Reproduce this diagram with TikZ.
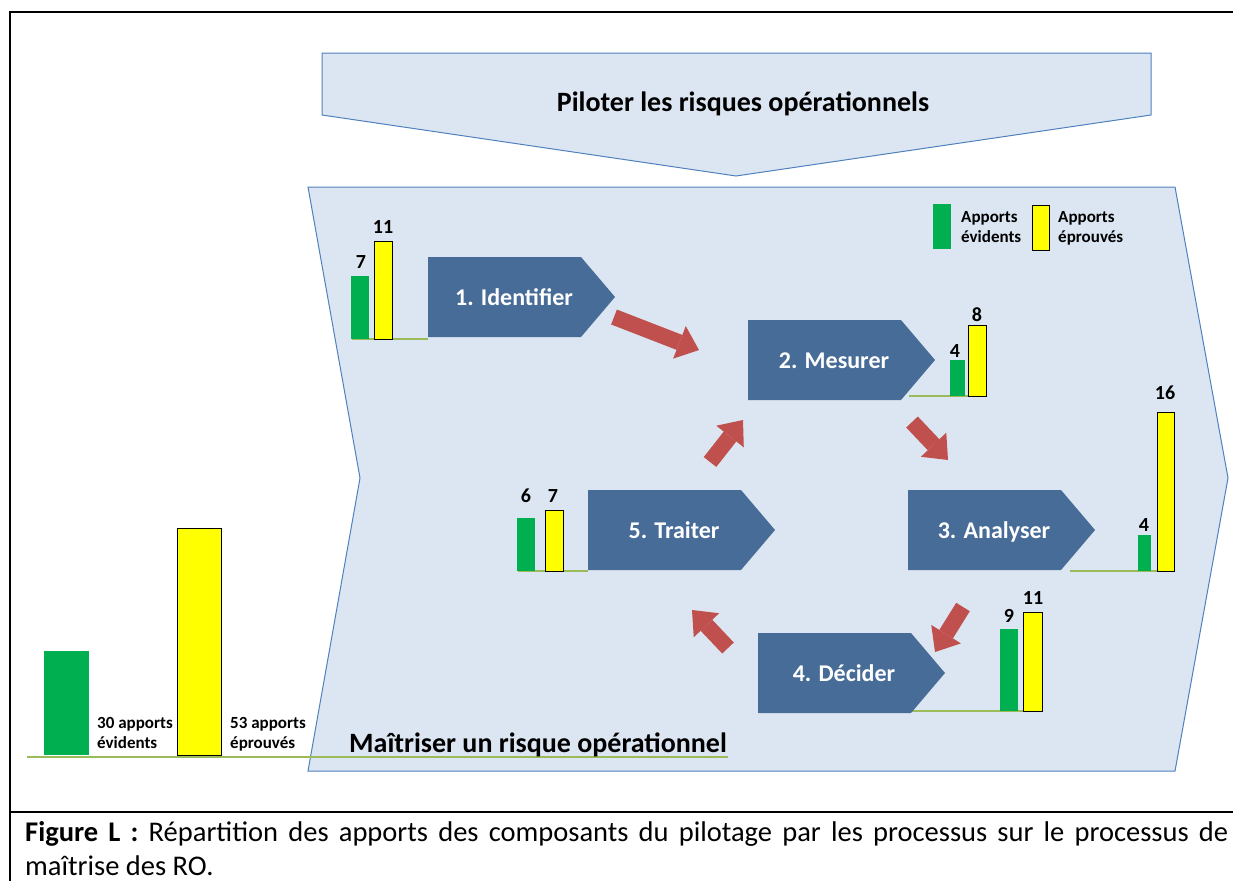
\documentclass[tikz,border=0pt]{standalone}
\usepackage{fontspec}
\setmainfont{Carlito}
\usetikzlibrary{arrows.meta}

\definecolor{panel}{HTML}{DCE6F2}
\definecolor{panelline}{HTML}{4F81BD}
\definecolor{procblue}{HTML}{476C98}
\definecolor{flowred}{HTML}{C0504D}
\definecolor{barG}{HTML}{00B050}
\definecolor{barY}{HTML}{FFFF00}
\definecolor{axisline}{HTML}{9BBB59}

\tikzset{
  panelshape/.style={fill=panel, draw=panelline, line width=1pt, line join=miter},
  procshape/.style={fill=procblue},
  proctext/.style={text=white, anchor=base, font=\bfseries\fontsize{24}{28}\selectfont},
  flow/.style={draw=flowred, line width=16pt,
    -{Triangle[length=21pt, width=35pt, line width=0pt]}},
  greenbar/.style={fill=barG},
  yellowbar/.style={fill=barY, draw=black, line width=1pt},
  axis/.style={draw=axisline, line width=1.3pt},
  num/.style={anchor=base, inner sep=0pt, font=\bfseries\fontsize{20}{24}\selectfont},
  legend/.style={anchor=base west, inner sep=0pt, align=left,
    font=\bfseries\fontsize{17}{20}\selectfont},
  title/.style={anchor=base, inner sep=0pt, font=\bfseries\fontsize{28}{32}\selectfont},
  captext/.style={anchor=base west, inner sep=0pt, font=\fontsize{28.5}{34}\selectfont},
  frame/.style={draw=black, line width=2pt},
}

% process chevron: name, left x, top y, label
\newcommand\procstep[4]{%
  \fill[procshape] (#2,#3) -- ++(153,0) -- ++(34,40) -- ++(-34,40) -- ++(-153,0) -- cycle;
  \node[proctext] (#1) at (#2+86,#3+48) {#4};%
}

\begin{document}
\begin{tikzpicture}[x=1pt, y=-1pt]
\useasboundingbox (0,0) rectangle (1233,881);

% page frame and caption separator
\draw[frame] (1233,12) -- (10,12) -- (10,881);
\draw[frame] (10,812) -- (1233,812);

% main panel and the steering chevron above it
\draw[panelshape] (308,187) -- (1175,187) -- (1228,478) -- (1175,771)
  -- (308,771) -- (360,478) -- cycle;
\draw[panelshape] (322,53) -- (1151,53) -- (1151,115) -- (736,176)
  -- (322,115) -- cycle;
\node[title] (pilot) at (743,111) {Piloter les risques opérationnels};

% totals on the left
\draw[axis] (27,757) -- (728,757);
\fill[greenbar] (44,651) rectangle (89,755);
\draw[yellowbar] (177,528) rectangle (221,755);
\node[legend] (totG) at (97,748) {30 apports\\évidents};
\node[legend] (totY) at (230,748) {53 apports\\éprouvés};
\node[title, anchor=base west] (master) at (349,752) {Maîtriser un risque opérationnel};

% legend
\fill[greenbar] (933,204) rectangle (951,249);
\node[legend] (legG) at (961,242) {Apports\\évidents};
\draw[yellowbar] (1032,205) rectangle (1049,250);
\node[legend] (legY) at (1058,242) {Apports\\éprouvés};

% step 1 bars
\draw[axis] (352,339) -- (428,339);
\fill[greenbar] (351,276) rectangle (369,339);
\draw[yellowbar] (374,241) rectangle (392,339);
\node[num] (n1g) at (361,268) {7};
\node[num] (n1y) at (383,233) {11};

% step 2 bars
\draw[axis] (909,396) -- (986,396);
\fill[greenbar] (950,360) rectangle (965,396);
\draw[yellowbar] (968,325) rectangle (986,396);
\node[num] (n2g) at (955,357) {4};
\node[num] (n2y) at (977,321) {8};

% step 3 bars
\draw[axis] (1070,571) -- (1174,571);
\fill[greenbar] (1138,535) rectangle (1151,571);
\draw[yellowbar] (1157,412) rectangle (1174,571);
\node[num] (n3g) at (1144,531) {4};
\node[num] (n3y) at (1165,399) {16};

% step 4 bars
\draw[axis] (912,711) -- (1042,711);
\fill[greenbar] (1000,629) rectangle (1018,711);
\draw[yellowbar] (1023,612) rectangle (1042,711);
\node[num] (n4g) at (1009,622) {9};
\node[num] (n4y) at (1033,604) {11};

% step 5 bars
\draw[axis] (518,571) -- (588,571);
\fill[greenbar] (517,518) rectangle (535,571);
\draw[yellowbar] (545,510) rectangle (563,571);
\node[num] (n5g) at (526,502) {6};
\node[num] (n5y) at (553,502) {7};

% process steps
\procstep{identifier}{428}{257}{1. Identifier}
\procstep{mesurer}{748}{320}{2. Mesurer}
\procstep{analyser}{908}{490}{3. Analyser}
\procstep{decider}{758}{633}{4. Décider}
\procstep{traiter}{588}{490}{5. Traiter}

% flow arrows between the steps
\coordinate (f1s) at (614,317); \coordinate (f1e) at (699,350);
\coordinate (f2s) at (912,422); \coordinate (f2e) at (948,460);
\coordinate (f3s) at (963,607); \coordinate (f3e) at (935,652);
\coordinate (f4s) at (728,648); \coordinate (f4e) at (692,610);
\coordinate (f5s) at (710,462); \coordinate (f5e) at (743,420);
\draw[flow] (f1s) -- (f1e);
\draw[flow] (f2s) -- (f2e);
\draw[flow] (f3s) -- (f3e);
\draw[flow] (f4s) -- (f4e);
\draw[flow] (f5s) -- (f5e);

% caption
\node[captext] (cap1) at (25,841)
  {\makebox[1203pt][s]{\textbf{Figure L :} Répartition des apports des composants du pilotage par les processus sur le processus de}};
\node[captext] (cap2) at (25,875) {maîtrise des RO.};
\end{tikzpicture}
\end{document}
